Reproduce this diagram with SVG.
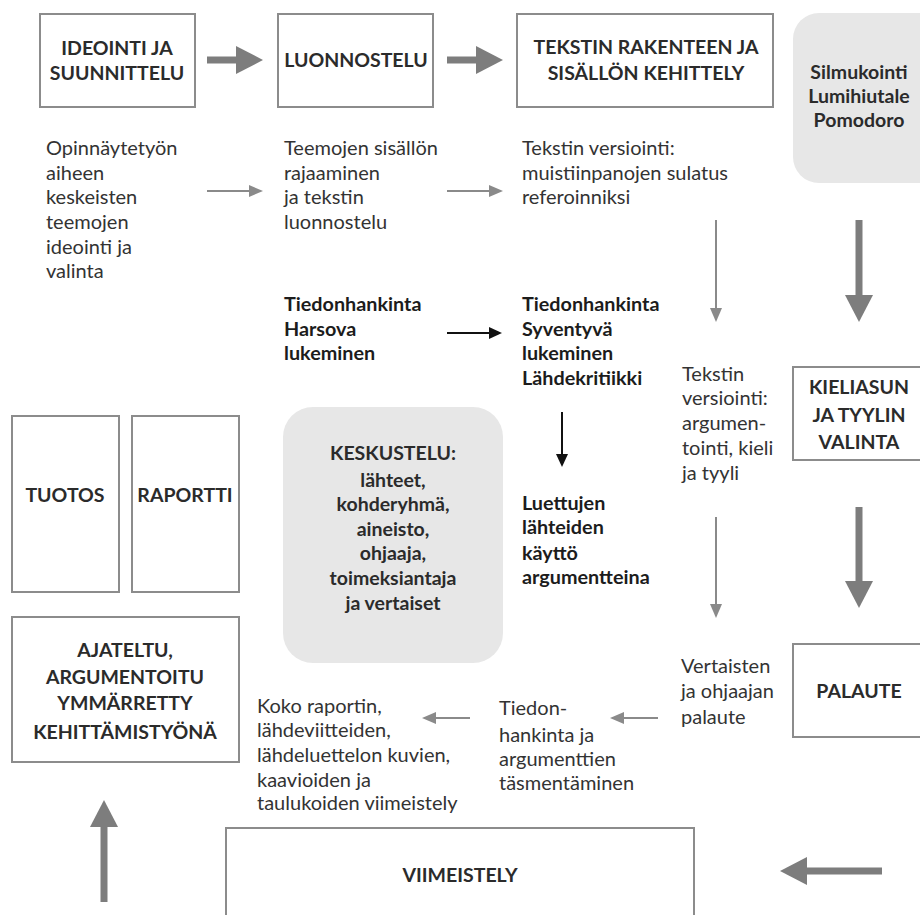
<svg xmlns="http://www.w3.org/2000/svg" width="920" height="915" viewBox="0 0 920 915">
<style>
.box{fill:#fff;stroke:#8c8c8c;stroke-width:2}
.gbox{fill:#e7e7e7}
.h{font-family:Lato,"Open Sans","Liberation Sans",sans-serif;font-weight:700;font-size:19.5px;fill:#2b2b2b;text-anchor:middle}
.t{font-family:Lato,"Open Sans","Liberation Sans",sans-serif;font-size:20px;fill:#333}
.b{font-family:Lato,"Open Sans","Liberation Sans",sans-serif;font-size:19.8px;font-weight:700;fill:#1c1c1c}
.thick{stroke:#7d7d7d;stroke-width:7;fill:none}
.thin{stroke:#8a8a8a;stroke-width:2;fill:none}
.blk{stroke:#111;stroke-width:2;fill:none}
</style>
<defs>
<marker id="mThick" markerUnits="userSpaceOnUse" markerWidth="27" markerHeight="28" refX="2" refY="14" orient="auto"><path d="M0,0 L27,14 L0,28 z" fill="#7d7d7d"/></marker>
<marker id="mThin" markerUnits="userSpaceOnUse" markerWidth="14" markerHeight="12" refX="2" refY="6" orient="auto"><path d="M0,0 L14,6 L0,12 z" fill="#8a8a8a"/></marker>
<marker id="mBlk" markerUnits="userSpaceOnUse" markerWidth="13" markerHeight="12" refX="2" refY="6" orient="auto"><path d="M0,0 L13,6 L0,12 z" fill="#111"/></marker>
</defs>
<rect width="920" height="915" fill="#fff"/>

<g id="n-ideointi"><rect class="box" x="40" y="14" width="155" height="93"/><text class="h" x="117" y="55">IDEOINTI JA</text><text class="h" x="117" y="80">SUUNNITTELU</text></g>
<g id="n-luonnostelu"><rect class="box" x="278" y="14" width="155" height="93"/><text class="h" x="356" y="67">LUONNOSTELU</text></g>
<g id="n-tekstin"><rect class="box" x="517" y="14" width="256" height="93"/><text class="h" x="646" y="54">TEKSTIN RAKENTEEN JA</text><text class="h" x="646" y="80">SISÄLLÖN KEHITTELY</text></g>
<g id="n-silmukointi"><rect class="gbox" x="793" y="13" width="160" height="170" rx="26"/><text class="h" x="859" y="79">Silmukointi</text><text class="h" x="859" y="103">Lumihiutale</text><text class="h" x="859" y="127">Pomodoro</text></g>

<g id="n-opinnaytetyo"><text class="t" x="46" y="155">Opinnäytetyön</text><text class="t" x="46" y="180">aiheen</text><text class="t" x="46" y="204">keskeisten</text><text class="t" x="46" y="229">teemojen</text><text class="t" x="46" y="254">ideointi ja</text><text class="t" x="46" y="278">valinta</text></g>
<g id="n-teemojen"><text class="t" x="284" y="155">Teemojen sisällön</text><text class="t" x="284" y="180">rajaaminen</text><text class="t" x="284" y="204">ja tekstin</text><text class="t" x="284" y="229">luonnostelu</text></g>
<g id="n-versiointi1"><text class="t" x="522" y="155">Tekstin versiointi:</text><text class="t" x="522" y="180">muistiinpanojen sulatus</text><text class="t" x="522" y="204">referoinniksi</text></g>

<g id="n-harsova"><text class="b" x="284" y="311">Tiedonhankinta</text><text class="b" x="284" y="336">Harsova</text><text class="b" x="284" y="360">lukeminen</text></g>
<g id="n-syventyva"><text class="b" x="522" y="311">Tiedonhankinta</text><text class="b" x="522" y="336">Syventyvä</text><text class="b" x="522" y="360">lukeminen</text><text class="b" x="522" y="385">Lähdekritiikki</text></g>
<g id="n-luettujen"><text class="b" x="522" y="510">Luettujen</text><text class="b" x="522" y="534">lähteiden</text><text class="b" x="522" y="560">käyttö</text><text class="b" x="522" y="584">argumentteina</text></g>
<g id="n-versiointi2"><text class="t" x="682" y="381">Tekstin</text><text class="t" x="682" y="405">versiointi:</text><text class="t" x="682" y="430">argumen-</text><text class="t" x="682" y="455">tointi, kieli</text><text class="t" x="682" y="480">ja tyyli</text></g>
<g id="n-kieliasun"><rect class="box" x="793" y="367" width="140" height="93"/><text class="h" x="859" y="394">KIELIASUN</text><text class="h" x="859" y="422">JA TYYLIN</text><text class="h" x="859" y="449">VALINTA</text></g>

<g id="n-tuotos"><rect class="box" x="12" y="416" width="107" height="176"/><text class="h" x="65" y="502">TUOTOS</text></g>
<g id="n-raportti"><rect class="box" x="132" y="416" width="107" height="176"/><text class="h" x="185" y="502">RAPORTTI</text></g>
<g id="n-keskustelu"><rect class="gbox" x="283" y="407" width="220" height="256" rx="30"/><text class="h" x="393" y="460">KESKUSTELU:</text><text class="h" x="393" y="487">lähteet,</text><text class="h" x="393" y="511">kohderyhmä,</text><text class="h" x="393" y="536">aineisto,</text><text class="h" x="393" y="560">ohjaaja,</text><text class="h" x="393" y="585">toimeksiantaja</text><text class="h" x="393" y="610">ja vertaiset</text></g>

<g id="n-ajateltu"><rect class="box" x="12" y="617" width="227" height="145"/><text class="h" x="125" y="657">AJATELTU,</text><text class="h" x="125" y="684">ARGUMENTOITU</text><text class="h" x="125" y="710">YMMÄRRETTY</text><text class="h" x="125" y="739">KEHITTÄMISTYÖNÄ</text></g>
<g id="n-koko"><text class="t" x="257" y="713">Koko raportin,</text><text class="t" x="257" y="737">lähdeviitteiden,</text><text class="t" x="257" y="762">lähdeluettelon kuvien,</text><text class="t" x="257" y="787">kaavioiden ja</text><text class="t" x="257" y="810">taulukoiden viimeistely</text></g>
<g id="n-tiedon"><text class="t" x="499" y="715">Tiedon-</text><text class="t" x="499" y="742">hankinta ja</text><text class="t" x="499" y="766">argumenttien</text><text class="t" x="499" y="790">täsmentäminen</text></g>
<g id="n-vertaisten"><text class="t" x="681" y="673">Vertaisten</text><text class="t" x="681" y="698">ja ohjaajan</text><text class="t" x="681" y="724">palaute</text></g>
<g id="n-palaute"><rect class="box" x="793" y="644" width="140" height="93"/><text class="h" x="859" y="698">PALAUTE</text></g>
<g id="n-viimeistely"><rect class="box" x="226" y="828" width="468" height="100"/><text class="h" x="460" y="882">VIIMEISTELY</text></g>

<g id="connectors">
<line class="thick" x1="207" y1="60" x2="238" y2="60" marker-end="url(#mThick)"/>
<line class="thick" x1="447" y1="60" x2="478" y2="60" marker-end="url(#mThick)"/>
<line class="thick" x1="859" y1="220" x2="859" y2="297" marker-end="url(#mThick)"/>
<line class="thick" x1="859" y1="507" x2="859" y2="583" marker-end="url(#mThick)"/>
<line class="thick" x1="882" y1="871" x2="805" y2="871" marker-end="url(#mThick)"/>
<line class="thick" x1="104" y1="902" x2="104" y2="825" marker-end="url(#mThick)"/>
<line class="thin" x1="207" y1="191" x2="251" y2="191" marker-end="url(#mThin)"/>
<line class="thin" x1="447" y1="191" x2="491" y2="191" marker-end="url(#mThin)"/>
<line class="thin" x1="716" y1="220" x2="716" y2="310" marker-end="url(#mThin)"/>
<line class="thin" x1="716" y1="517" x2="716" y2="606" marker-end="url(#mThin)"/>
<line class="thin" x1="658" y1="718" x2="622" y2="718" marker-end="url(#mThin)"/>
<line class="thin" x1="470" y1="718" x2="434" y2="718" marker-end="url(#mThin)"/>
<line class="blk" x1="447" y1="333" x2="491" y2="333" marker-end="url(#mBlk)"/>
<line class="blk" x1="562" y1="412" x2="562" y2="456" marker-end="url(#mBlk)"/>
</g>
</svg>
